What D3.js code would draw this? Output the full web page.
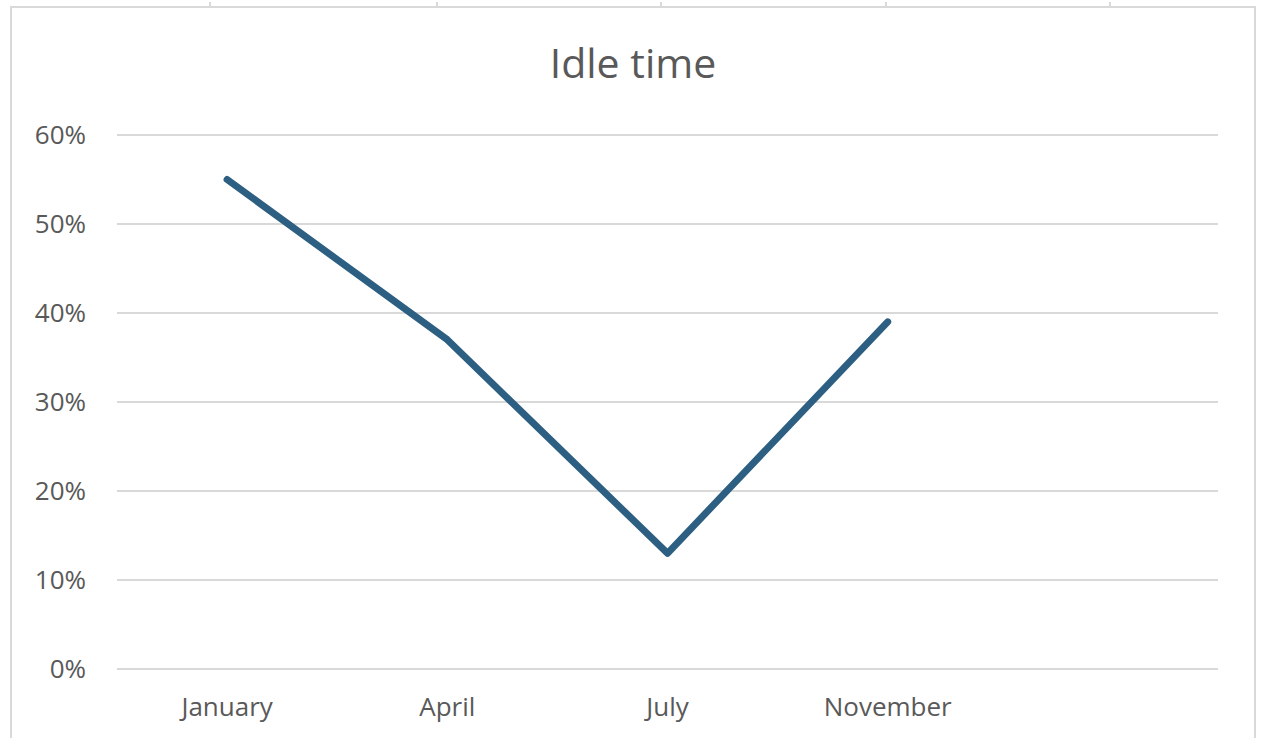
<!DOCTYPE html>
<html>
<head>
<meta charset="utf-8">
<script src="https://cdn.jsdelivr.net/npm/d3@7"></script>
<style>
  body { margin: 0; background: #fff; }
  text { font-family: "Open Sans", "Noto Sans", sans-serif; fill: #595959; }
</style>
</head>
<body>
<svg id="chart" width="1261" height="738"></svg>
<script>
// data
var categories = ["January", "April", "July", "November", ""];
var idleValues = [0.55, 0.37, 0.13, 0.39];
var yTicks = [0, 0.1, 0.2, 0.3, 0.4, 0.5, 0.6];
var rulerMarks = [210, 437, 661, 886, 1110];

var width = 1261,
  height = 738,
  margin = { top: 135, right: 43, bottom: 69, left: 117 };

var svg = d3.select('#chart');

// outer chart frame
svg.append('rect')
  .attr('x', 11).attr('y', 7)
  .attr('width', 1244).attr('height', 760)
  .attr('fill', 'none')
  .attr('stroke', '#d9d9d9')
  .attr('stroke-width', 2);

// small marks above the frame
svg.selectAll('.mark')
  .data(rulerMarks)
  .enter().append('line')
  .attr('class', 'mark')
  .attr('x1', function(d) { return d; })
  .attr('x2', function(d) { return d; })
  .attr('y1', 2).attr('y2', 7)
  .attr('stroke', '#d9d9d9')
  .attr('stroke-width', 2);

var xScale = d3.scaleBand()
  .domain(categories)
  .range([margin.left, width - margin.right]);

var yScale = d3.scaleLinear()
  .domain([0, 0.6])
  .range([height - margin.bottom, margin.top]);

// gridlines
svg.append('g')
  .selectAll('line')
  .data(yTicks)
  .enter().append('line')
  .attr('x1', margin.left)
  .attr('x2', width - margin.right)
  .attr('y1', function(d) { return yScale(d); })
  .attr('y2', function(d) { return yScale(d); })
  .attr('stroke', '#d9d9d9')
  .attr('stroke-width', 2);

// y axis labels
var yAxis = d3.axisLeft(yScale)
  .tickValues(yTicks)
  .tickFormat(d3.format('.0%'))
  .tickSize(0)
  .tickPadding(31);

var gy = svg.append('g')
  .attr('transform', 'translate(' + margin.left + ',0)')
  .call(yAxis);
gy.select('.domain').remove();
gy.selectAll('text')
  .attr('font-size', 26)
  .attr('font-family', null)
  .attr('fill', '#595959');

// x axis labels
var xAxis = d3.axisBottom(xScale).tickSize(0).tickPadding(29);
var gx = svg.append('g')
  .attr('transform', 'translate(0,' + (height - margin.bottom) + ')')
  .call(xAxis);
gx.select('.domain').remove();
gx.selectAll('text')
  .attr('font-size', 26)
  .attr('font-family', null)
  .attr('fill', '#595959');

// line
var line = d3.line()
  .x(function(d, i) { return xScale(categories[i]) + xScale.bandwidth() / 2; })
  .y(function(d) { return yScale(d); });

svg.append('path')
  .datum(idleValues)
  .attr('d', line)
  .attr('fill', 'none')
  .attr('stroke', '#2d5f82')
  .attr('stroke-width', 7)
  .attr('stroke-linecap', 'round')
  .attr('stroke-linejoin', 'round');

// title
svg.append('text')
  .attr('x', 633)
  .attr('y', 78)
  .attr('text-anchor', 'middle')
  .attr('font-size', 41)
  .text('Idle time');
</script>
</body>
</html>
